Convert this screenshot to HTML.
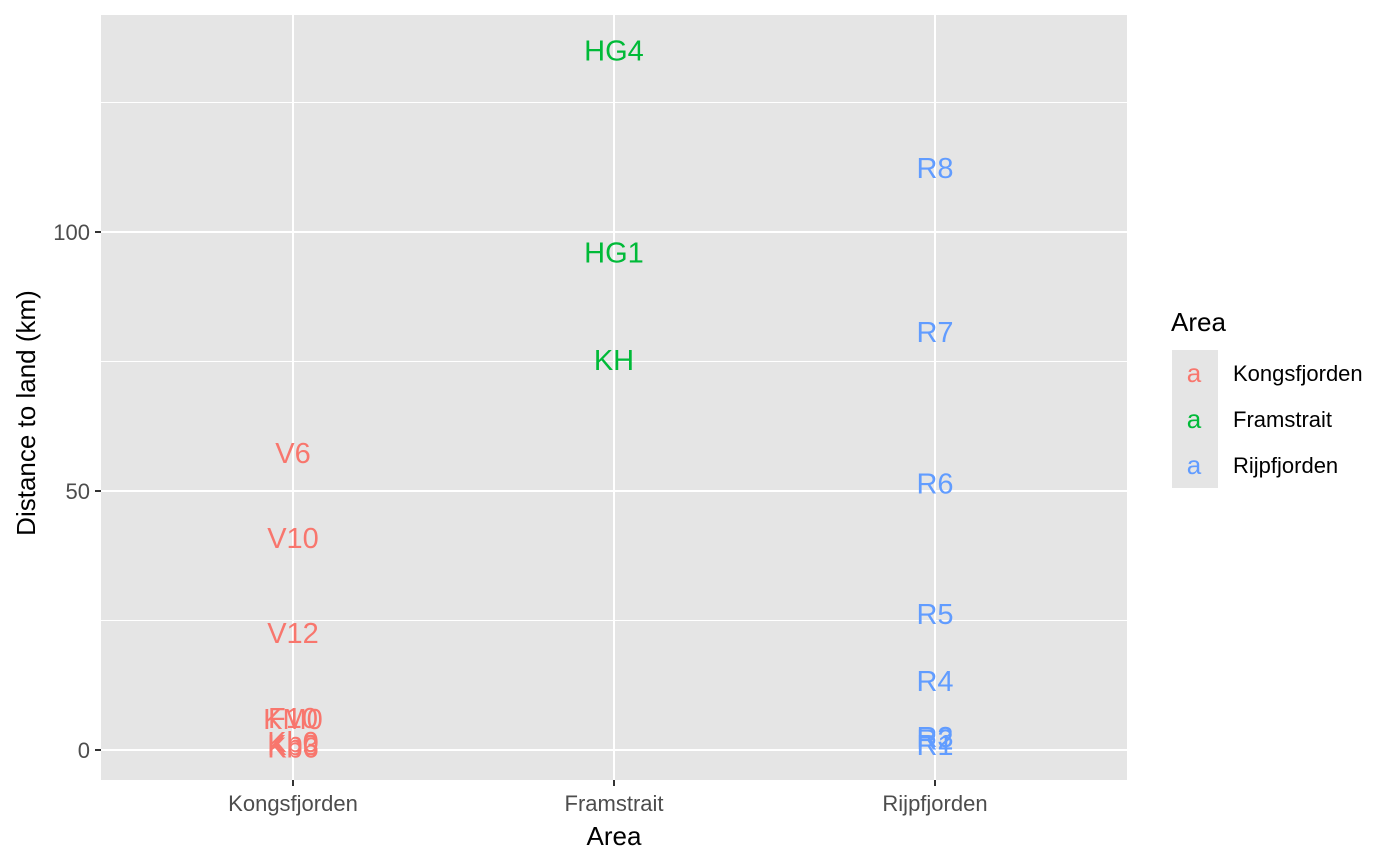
<!DOCTYPE html>
<html><head><meta charset="utf-8"><style>body{margin:0;background:#fff}svg{display:block;font-family:"Liberation Sans",Arial,sans-serif}</style></head>
<body>
<svg id="chart" width="1400" height="865">
<rect x="101" y="15" width="1026" height="765" fill="#e5e5e5"/>
<g id="grid"></g><g id="marks"></g><g id="axes"></g>
<text x="614" y="845" font-size="26" text-anchor="middle">Area</text>
<text transform="translate(35,413) rotate(-90)" font-size="26" text-anchor="middle">Distance to land (km)</text>
<g>
<text x="1171" y="331" font-size="26">Area</text>
<g id="legend"></g>
</g>
</svg>
<script>
const categories=["Kongsfjorden","Framstrait","Rijpfjorden"];
const colors=["#F8766D","#00BA38","#619CFF"];
const labels=["V6","V10","V12","F10","KM0","Kb0","Kb3","Kb6","HG4","HG1","KH","R8","R7","R6","R5","R4","R3","R2","R1"];
const areas=[0,0,0,0,0,0,0,0,1,1,1,2,2,2,2,2,2,2,2];
const values=[57.3,40.9,22.6,6.2,6,1.5,1,0.5,135,96,75.3,112.4,80.7,51.4,26.3,13.3,2.5,2,1];
const yTicks=[0,50,100];
const yMinor=[25,75,125];
const ns="http://www.w3.org/2000/svg";
const y=v=>750-v*5.18;
const x=i=>293+i*321;
function mk(p,t,a){const e=document.createElementNS(ns,t);for(const k in a)e.setAttribute(k,a[k]);document.getElementById(p).appendChild(e);return e;}
yMinor.forEach(v=>{const e=mk("grid","line",{x1:101,x2:1127,y1:y(v),y2:y(v),stroke:"#fff","stroke-width":1});

});
yTicks.forEach(v=>{const e=mk("grid","line",{x1:101,x2:1127,y1:y(v),y2:y(v),stroke:"#fff","stroke-width":2});


const t=mk("axes","line",{x1:95,x2:101,y1:y(v),y2:y(v),stroke:"#333","stroke-width":2});


const l=mk("axes","text",{x:90,y:y(v)+8,"font-size":22,fill:"#4d4d4d","text-anchor":"end"});l.textContent=v;

});
categories.forEach((c,i)=>{const e=mk("grid","line",{x1:x(i),x2:x(i),y1:15,y2:780,stroke:"#fff","stroke-width":2});


const t=mk("axes","line",{x1:x(i),x2:x(i),y1:780,y2:786,stroke:"#333","stroke-width":2});


const l=mk("axes","text",{x:x(i),y:811,"font-size":22,fill:"#4d4d4d","text-anchor":"middle"});l.textContent=c;


mk("legend","rect",{x:1172,y:350+i*46,width:46,height:46,fill:"#e5e5e5"});
const k=mk("legend","text",{x:1194,y:382+i*46,"font-size":26,fill:colors[i],"text-anchor":"middle"});k.textContent="a";


const n=mk("legend","text",{x:1233,y:381+i*46,"font-size":22});n.textContent=c;

});
labels.forEach((s,i)=>{const t=mk("marks","text",{x:x(areas[i]),y:y(values[i])+10,"font-size":29,fill:colors[areas[i]],"text-anchor":"middle"});t.textContent=s;

});
</script>
</body></html>
